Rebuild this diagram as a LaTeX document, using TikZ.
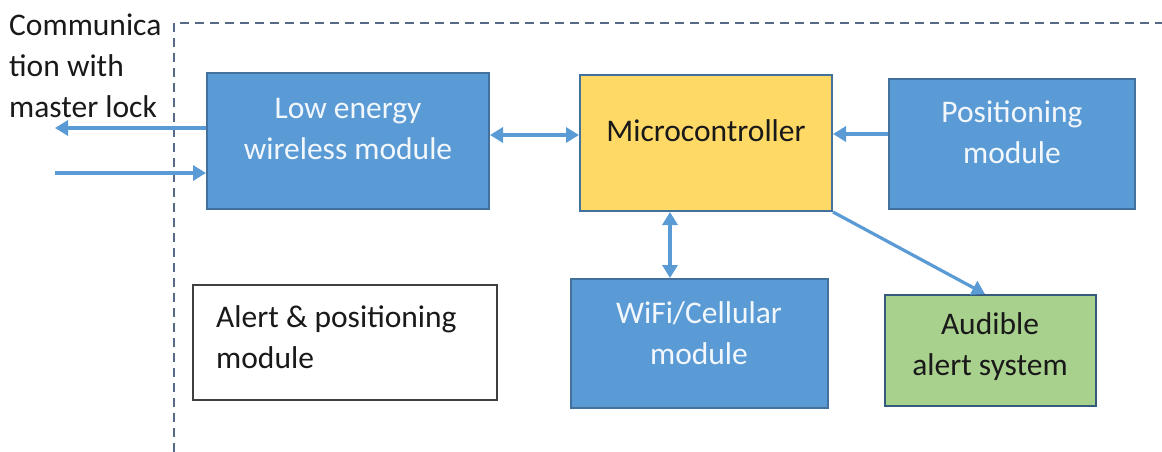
\documentclass[tikz,border=0pt]{standalone}
\usepackage{fontspec}
\setmainfont{Carlito}
\usetikzlibrary{arrows.meta}
\definecolor{blkblue}{HTML}{5B9BD5}
\definecolor{blkedge}{HTML}{41719C}
\definecolor{mcuyel}{HTML}{FFD966}
\definecolor{alrtgreen}{HTML}{A9D18E}
\definecolor{frameline}{HTML}{566A86}
\definecolor{linkblue}{HTML}{5B9BD5}
\tikzset{
  x=1pt, y=-1pt,
  every node/.style={font=\fontsize{31.5}{41}\selectfont},
  block/.style={draw=blkedge, line width=2pt, inner sep=0pt},
  bluebox/.style={block, fill=blkblue},
  mcubox/.style={block, fill=mcuyel},
  greenbox/.style={block, fill=alrtgreen, draw=blkedge!80!black},
  plainbox/.style={draw=black!75, line width=2pt, fill=white, inner sep=0pt},
  lighttxt/.style={text=white!92!blkblue, align=center, inner sep=0pt},
  darktxt/.style={text=black!90, align=center, inner sep=0pt},
  link/.style={draw=linkblue, line width=3.2pt, -{Triangle[width=15pt,length=13pt]}},
  duplex/.style={draw=linkblue, line width=3.2pt, {Triangle[width=15pt,length=13pt]}-{Triangle[width=15pt,length=13pt]}},
  boundary/.style={draw=frameline, line width=2.6pt, dash pattern=on 9pt off 6pt}
}
\begin{document}
\begin{tikzpicture}
\useasboundingbox (0,0) rectangle (1162,452);

% dashed outline of the module
\draw[boundary] (174,452) -- (174,23) -- (1162,23);

% blocks
\node[bluebox, minimum width=282pt, minimum height=136pt] (ble) at (348,141) {};
\node[mcubox, minimum width=252pt, minimum height=136pt] (mcu) at (706,143) {};
\node[bluebox, minimum width=246pt, minimum height=130pt] (pos) at (1012,144) {};
\node[bluebox, minimum width=257pt, minimum height=129pt] (wifi) at (699.5,343.5) {};
\node[greenbox, minimum width=211pt, minimum height=111pt] (aud) at (990.5,350.5) {};
\node[plainbox, minimum width=304pt, minimum height=115pt] (alert) at (345,342.5) {};

% block labels
\node[lighttxt] (bletxt) at (348,129) {Low energy\\wireless module};
\node[darktxt] (mcutxt) at (706,131) {Microcontroller};
\node[lighttxt] (postxt) at (1012,132) {Positioning\\module};
\node[lighttxt] (wifitxt) at (699,333) {WiFi/Cellular\\module};
\node[darktxt] (audtxt) at (990,347) {Audible\\alert system};
\node[darktxt, align=left, anchor=west] (alerttxt) at (216,337) {Alert \& positioning\\module};

% external link caption
\node[darktxt, align=left, anchor=north west] (ext) at (9,14) {Communica\\tion with\\master lock};

% link ends outside the module
\coordinate (extout) at (55,128);
\coordinate (extin) at (55,173);

% connectors
\draw[link] (ble.west |- extout) -- (extout);
\draw[link] (extin) -- (ble.west |- extin);
\draw[duplex] (ble.east |- 0,135) -- (mcu.west |- 0,135);
\draw[link] (pos.west |- 0,134) -- (mcu.east |- 0,134);
\draw[duplex] (mcu.south -| 670,0) -- (wifi.north -| 670,0);
\draw[link] (mcu.south east) -- (aud.north -| 985,0);
\end{tikzpicture}
\end{document}
